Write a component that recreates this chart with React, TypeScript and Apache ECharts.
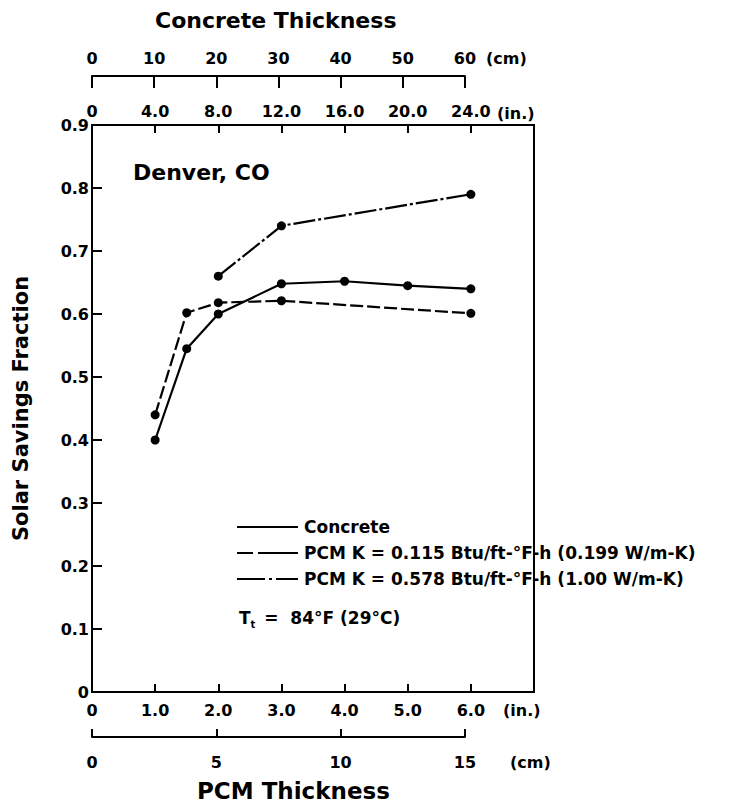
import React, { useEffect, useRef } from "react";
import * as echarts from "echarts";

// ---- Data ----
// Concrete wall: thickness in inches (top axis), solar savings fraction
const concreteThicknessIn = [4, 6, 8, 12, 16, 20, 24];
const concreteSSF = [0.4, 0.545, 0.6, 0.648, 0.652, 0.645, 0.64];
// PCM wall, K = 0.115 Btu/ft-°F-h: thickness in inches (bottom axis)
const pcmLowKThicknessIn = [1.0, 1.5, 2.0, 3.0, 6.0];
const pcmLowKSSF = [0.44, 0.602, 0.618, 0.621, 0.601];
// PCM wall, K = 0.578 Btu/ft-°F-h
const pcmHighKThicknessIn = [2.0, 3.0, 6.0];
const pcmHighKSSF = [0.66, 0.74, 0.79];

// Tick labels
const pcmInchLabels = ["0", "1.0", "2.0", "3.0", "4.0", "5.0", "6.0", ""];
const concreteInchLabels = ["0", "4.0", "8.0", "12.0", "16.0", "20.0", "24.0", ""];
const concreteCmLabels = ["0", "10", "20", "30", "40", "50", "60"];
const pcmCmLabels = ["0", "5", "10", "15"];

const legendNames = [
  "Concrete",
  "PCM K = 0.115 Btu/ft-°F-h (0.199 W/m-K)",
  "PCM K = 0.578 Btu/ft-°F-h (1.00 W/m-K)",
];

const FONT = "DejaVu Sans";
const CM_PER_IN = 2.54;

export default function App() {
  const ref = useRef<HTMLDivElement>(null);

  useEffect(() => {
    if (!ref.current) return;
    const chart = echarts.init(ref.current, undefined, { renderer: "svg" });

    const plotLeft = 92;
    const plotTop = 125;
    const plotW = 442;
    const plotH = 567;
    const pcmMaxIn = 7;
    const concMaxIn = 28;
    const pxPerPcmIn = plotW / pcmMaxIn;
    const pxPerConcIn = plotW / concMaxIn;
    const concCmWidth = (60 / CM_PER_IN) * pxPerConcIn;
    const pcmCmWidth = (15 / CM_PER_IN) * pxPerPcmIn;

    const labelStyle = {
      color: "#000",
      fontFamily: FONT,
      fontWeight: "bold" as const,
      fontSize: 16,
    };
    const lineBlack = { color: "#000", width: 2 };

    const legendY = [527, 553, 579];
    const legendDash: (number[] | null)[] = [null, [16, 5, 40], [28, 4, 3, 4, 30]];

    const graphics: any[] = [
      {
        type: "text",
        x: 155,
        y: 20,
        style: {
          text: "Concrete Thickness",
          font: `bold 22px "${FONT}"`,
          fill: "#000",
          textAlign: "left",
          textVerticalAlign: "middle",
        },
      },
      {
        type: "text",
        x: 197,
        y: 791,
        style: {
          text: "PCM Thickness",
          font: `bold 23px "${FONT}"`,
          fill: "#000",
          textAlign: "left",
          textVerticalAlign: "middle",
        },
      },
      {
        type: "text",
        x: 133,
        y: 172,
        style: {
          text: "Denver, CO",
          font: `bold 22px "${FONT}"`,
          fill: "#000",
          textAlign: "left",
          textVerticalAlign: "middle",
        },
      },
      // unit labels
      ...[
        { t: "(cm)", x: 486, y: 58 },
        { t: "(in.)", x: 497, y: 113 },
        { t: "(in.)", x: 503, y: 710 },
        { t: "(cm)", x: 510, y: 762 },
      ].map((u) => ({
        type: "text",
        x: u.x,
        y: u.y,
        style: {
          text: u.t,
          font: `bold 16px "${FONT}"`,
          fill: "#000",
          textAlign: "left",
          textVerticalAlign: "middle",
        },
      })),
      {
        type: "text",
        x: 239,
        y: 618,
        style: {
          text: "{a|T}{s|t}{a| =  84°F (29°C)}",
          fill: "#000",
          textAlign: "left",
          textVerticalAlign: "middle",
          rich: {
            a: { fontFamily: FONT, fontWeight: "bold", fontSize: 17, lineHeight: 22, fill: "#000" },
            s: {
              fontFamily: FONT,
              fontWeight: "bold",
              fontSize: 10,
              lineHeight: 22,
              verticalAlign: "bottom",
              padding: [8, 3, 0, 0],
              fill: "#000",
            },
          },
        },
      },
    ];

    legendNames.forEach((name, i) => {
      graphics.push({
        type: "line",
        shape: { x1: 237, y1: legendY[i], x2: 298, y2: legendY[i] },
        style: {
          stroke: "#000",
          lineWidth: 2.2,
          lineDash: legendDash[i] || undefined,
        },
      });
      graphics.push({
        type: "text",
        x: 304,
        y: legendY[i],
        style: {
          text: name,
          font: `bold 17px "${FONT}"`,
          fill: "#000",
          textAlign: "left",
          textVerticalAlign: "middle",
        },
      });
    });

    const option: any = {
      animation: false,
      backgroundColor: "#fff",
      grid: [
        {
          left: plotLeft,
          top: plotTop,
          width: plotW,
          height: plotH,
          show: true,
          borderColor: "#000",
          borderWidth: 2,
        },
        { left: plotLeft, top: 76, width: concCmWidth, height: 1 },
        { left: plotLeft, top: 736, width: pcmCmWidth, height: 1 },
      ],
      xAxis: [
        {
          gridIndex: 0,
          type: "value",
          position: "bottom",
          min: 0,
          max: pcmMaxIn,
          interval: 1,
          axisLine: { show: true, onZero: false, lineStyle: lineBlack },
          axisTick: { show: true, inside: true, length: 8, lineStyle: lineBlack },
          axisLabel: {
            ...labelStyle,
            margin: 10,
            formatter: (v: number) => pcmInchLabels[Math.round(v)] ?? "",
          },
          splitLine: { show: false },
        },
        {
          gridIndex: 0,
          type: "value",
          position: "top",
          min: 0,
          max: concMaxIn,
          interval: 4,
          axisLine: { show: true, onZero: false, lineStyle: lineBlack },
          axisTick: { show: true, inside: true, length: 8, lineStyle: lineBlack },
          axisLabel: {
            ...labelStyle,
            margin: 6,
            formatter: (v: number) => concreteInchLabels[Math.round(v / 4)] ?? "",
          },
          splitLine: { show: false },
        },
        {
          gridIndex: 1,
          type: "value",
          position: "top",
          min: 0,
          max: 60,
          interval: 10,
          axisLine: { show: true, onZero: false, lineStyle: lineBlack },
          axisTick: { show: true, inside: true, length: 12, lineStyle: lineBlack },
          axisLabel: {
            ...labelStyle,
            margin: 10,
            formatter: (v: number) => concreteCmLabels[Math.round(v / 10)] ?? "",
          },
          splitLine: { show: false },
        },
        {
          gridIndex: 2,
          type: "value",
          position: "bottom",
          min: 0,
          max: 15,
          interval: 5,
          axisLine: { show: true, onZero: false, lineStyle: lineBlack },
          axisTick: { show: true, inside: true, length: 8, lineStyle: lineBlack },
          axisLabel: {
            ...labelStyle,
            margin: 17,
            formatter: (v: number) => pcmCmLabels[Math.round(v / 5)] ?? "",
          },
          splitLine: { show: false },
        },
      ],
      yAxis: [
        {
          gridIndex: 0,
          type: "value",
          min: 0,
          max: 0.9,
          interval: 0.1,
          name: "Solar Savings Fraction",
          nameLocation: "middle",
          nameGap: 61,
          nameRotate: 90,
          nameTextStyle: {
            color: "#000",
            fontFamily: FONT,
            fontWeight: "bold",
            fontSize: 21,
          },
          axisLine: { show: true, onZero: false, lineStyle: lineBlack },
          axisTick: { show: true, inside: true, length: 10, lineStyle: lineBlack },
          axisLabel: {
            ...labelStyle,
            margin: 3,
            formatter: (v: number) => (Math.abs(v) < 1e-9 ? "0" : v.toFixed(1)),
          },
          splitLine: { show: false },
        },
        { gridIndex: 1, type: "value", show: false, min: 0, max: 1 },
        { gridIndex: 2, type: "value", show: false, min: 0, max: 1 },
      ],
      series: [
        {
          name: legendNames[0],
          type: "line",
          xAxisIndex: 1,
          yAxisIndex: 0,
          data: concreteThicknessIn.map((x, i) => [x, concreteSSF[i]]),
          symbol: "circle",
          symbolSize: 9,
          itemStyle: { color: "#000" },
          lineStyle: { color: "#000", width: 2.2, type: "solid" },
          z: 3,
        },
        {
          name: legendNames[1],
          type: "line",
          xAxisIndex: 0,
          yAxisIndex: 0,
          data: pcmLowKThicknessIn.map((x, i) => [x, pcmLowKSSF[i]]),
          symbol: "circle",
          symbolSize: 9,
          itemStyle: { color: "#000" },
          lineStyle: { color: "#000", width: 2.2, type: [13, 4] },
          z: 3,
        },
        {
          name: legendNames[2],
          type: "line",
          xAxisIndex: 0,
          yAxisIndex: 0,
          data: pcmHighKThicknessIn.map((x, i) => [x, pcmHighKSSF[i]]),
          symbol: "circle",
          symbolSize: 9,
          itemStyle: { color: "#000" },
          lineStyle: { color: "#000", width: 2.2, type: [22, 3, 3, 3] },
          z: 3,
        },
      ],
      graphic: graphics,
    };

    chart.setOption(option);
    return () => chart.dispose();
  }, []);

  return (
    <div
      ref={ref}
      style={{ position: "absolute", left: 0, top: 0, width: 729, height: 804, background: "#fff" }}
    />
  );
}
